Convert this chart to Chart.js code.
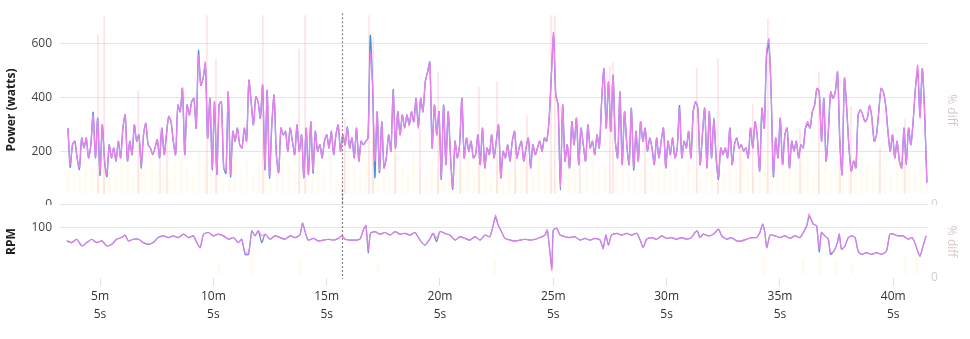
<!DOCTYPE html>
<html><head><meta charset="utf-8">
<script src="https://cdn.jsdelivr.net/npm/chart.js@4"></script>
<style>
html,body{margin:0;padding:0;background:#fff;width:970px;height:339px;overflow:hidden;}
#top{position:absolute;left:0;top:0;width:970px;height:205px;overflow:hidden;}
#bot{position:absolute;left:0;top:190px;width:970px;height:149px;}
canvas{display:block;}
</style></head><body>
<div id="top"><canvas id="c1" width="970" height="220"></canvas></div>
<div id="bot"><canvas id="c2" width="970" height="149"></canvas></div>
<script>
// ---- data ----
const tickSec = [305, 605, 905, 1205, 1505, 1805, 2105, 2405];
const tickLabels = [["5m","5s"],["10m","5s"],["15m","5s"],["20m","5s"],["25m","5s"],["30m","5s"],["35m","5s"],["40m","5s"]];
const powerTicks = [0, 200, 400, 600];
const rpmTicks = [100];
const diffTicks = [0];
const powerStartSec = 220, powerEndSec = 2494;   // sampling window of the power series
const cursorSec = 945;

const powerPink = [
286,150,224,237,175,138,249,212,249,175,224,335,175,323,120,298,163,113,224,175,212,163,237,175,286,335,163,237,187,298,237,261,144,261,304,224,212,187,212,243,175,286,187,261,329,310,237,187,372,347,434,187,372,335,384,397,286,557,446,471,532,249,397,138,384,113,372,384,138,126,421,113,274,237,286,224,
212,286,237,464,384,298,403,384,323,446,138,427,107,298,409,187,120,286,261,274,200,286,237,187,298,200,261,101,286,113,310,126,274,200,224,175,237,261,212,274,187,261,298,200,261,224,286,212,249,175,286,163,237,224,237,249,569,446,163,347,126,310,138,175,261,200,421,212,347,261,335,286,335,298,347,
310,397,286,397,347,458,495,532,212,372,261,347,101,372,150,347,187,64,237,175,224,397,175,249,200,237,175,187,261,150,286,138,212,187,261,175,237,298,101,200,175,224,163,237,274,175,212,237,163,212,249,138,224,187,212,237,200,249,237,310,471,643,409,372,64,372,163,224,138,310,224,323,150,286,224,
163,298,212,237,187,261,212,384,508,286,458,274,483,237,175,421,150,347,224,150,360,138,274,163,310,237,286,200,249,212,150,249,175,237,286,138,237,187,249,175,212,360,175,237,212,274,175,347,384,360,150,261,360,138,347,175,323,175,101,212,187,212,175,286,150,224,249,212,224,200,212,175,286,212,310,
249,126,360,286,569,618,421,113,249,175,323,150,261,286,138,237,200,237,175,224,212,286,310,286,347,372,434,421,237,397,163,274,421,397,421,495,237,113,471,360,212,126,163,138,335,354,335,310,323,372,323,237,261,347,434,421,372,274,200,261,175,237,163,138,286,150,286,224,310,434,520,323,508,347,83
];
const powerBlue = [
286,140,224,237,175,132,249,212,249,175,224,345,175,323,110,298,163,105,224,175,212,163,237,175,286,335,163,237,187,298,237,261,135,261,304,224,212,187,212,243,175,286,187,261,329,310,237,187,372,347,434,187,372,335,384,397,286,575,446,471,520,249,397,130,384,113,372,384,138,118,421,105,274,237,286,224,
212,286,237,464,384,298,403,384,323,446,130,427,100,298,409,187,120,286,261,274,200,286,237,187,298,200,261,101,286,113,310,118,274,200,224,175,237,261,212,274,187,261,298,200,261,224,290,212,249,175,286,163,237,224,237,249,631,446,101,347,120,310,138,175,261,200,430,212,347,261,335,286,335,298,347,
310,397,286,397,347,458,495,532,212,372,261,347,95,372,150,347,187,58,237,175,224,397,175,249,200,237,175,187,261,150,286,138,212,187,261,175,237,298,101,200,175,224,163,237,274,175,212,237,163,212,249,138,224,187,212,237,200,249,237,310,471,630,409,372,55,372,163,224,138,310,224,323,150,286,224,
163,298,212,237,187,261,212,384,508,286,458,274,483,237,175,421,150,347,224,150,360,130,274,163,310,237,286,200,249,212,150,249,175,237,286,138,237,187,249,175,212,370,175,237,212,274,175,347,384,360,150,261,360,138,347,175,323,175,95,212,187,212,175,286,150,224,249,212,224,200,212,175,286,212,310,
249,126,360,286,555,600,421,105,249,175,323,150,261,286,138,237,200,237,175,224,212,286,300,286,347,372,434,421,237,397,163,274,421,397,421,495,237,113,471,360,212,126,163,138,335,354,335,310,323,372,323,237,261,347,434,421,372,274,200,261,175,237,163,138,286,150,286,224,310,434,500,330,508,347,83
];

// % diff: large spikes
const spikeSec = [300,316,406,464,482,588,612,736,832,848,953,1017,1028,1086,1152,1200,1258,1308,1356,1404,1435,1499,1509,1575,1655,1663,1748,1885,1941,2000,2033,2073,2158,2208,2264,2293,2370,2436];
const spikeVal = [90,100,60,40,38,100,77,100,82,100,45,100,88,35,40,70,30,62,65,35,47,100,100,40,73,75,35,72,77,30,53,98,40,70,35,52,30,45];
// % diff: small background values (top panel)
const diffSmall = [18,22,15,25,20,12,24,19,16,27,21,14,23,18,26,17,20,13,22,25,19,15,28,21,17,24,12,20,26,18,23,16,21,27,14,19,25,22,17,29,20,15,24,18,26,13,21,28,19,16,23,30,18,22,14,25,20,17,27,21,15,24,19,12,22,26,18,23,16,20,25,14,21,28,17,19,24,22,15,26,18,20,13,23,27,19,16,22,25,18,21,14,24,20,17,26,19,23,15,22,28,18,20,16,25,21,13,24,19,27,17,22,18,26,20,15,23,29,19,21,16,24,18,22,25,14,20,27,17,23,19,21,26,15,22,18,24,20,16,25,19,23,17,21,18];
const diffBase = 6;
// % diff: bottom panel
const rpmDiffSec = [620,707,834,1041,1350,1504,2062,2166,2211,2253,2296,2436,2468];
const rpmDiffVal = [18,30,25,20,25,35,30,25,30,25,20,30,35];

const rpmSec = [
217,230,243,257,270,283,296,310,323,336,349,362,371,380,393,407,420,433,446,459,473,486,499,512,526,539,552,561,570,579,592,605,618,632,645,658,671,680,689,698,707,715,724,733,742,755,768,782,795,808,821,
834,841,848,856,870,883,896,909,923,936,945,954,967,980,993,1002,1009,1015,1021,1033,1046,1059,1073,1086,1099,1112,1126,1139,1152,1165,1179,1187,1196,1205,1218,1231,1245,1258,1271,1284,1298,1311,1324,1337,1346,1352,1359,1368,1377,1390,1404,1417,1430,1443,1457,1470,1483,1489,1496,1501,1505,1514,1523,1536,1549,1562,1576,1589,1602,1615,1629,1637,1644,1651,1659,1673,1686,1699,1712,1726,
1736,1743,1752,1765,1779,1792,1805,1818,1831,1845,1858,1871,1880,1886,1893,1902,1915,1929,1942,1951,1964,1977,1990,2004,2017,2030,2043,2052,2059,2065,2070,2079,2092,2105,2118,2131,2145,2158,2167,2176,2182,2187,2193,2202,2209,2215,2224,2233,2239,2248,2257,2262,2268,2277,2286,2295,2304,2312,2321,2334,2348,2361,2374,2387,2396,2405,2418,2431,2445,2454,2462,2471,2476,2484,2492
];
const rpmPink = [
84,82,86,78,82,86,82,84,78,80,86,88,91,84,86,86,82,80,82,88,90,88,90,88,92,88,90,82,76,92,94,90,92,90,86,88,82,86,70,70,96,90,96,90,92,86,90,88,86,90,88,
91,105,95,85,87,84,85,86,85,87,90,86,85,85,86,97,102,73,93,95,92,94,91,95,92,93,91,94,85,79,87,93,87,95,93,91,85,89,87,85,89,85,91,89,103,115,103,95,87,85,84,85,86,85,86,88,91,97,71,49,97,99,91,89,88,89,85,87,85,87,85,75,91,79,91,93,91,93,91,93,
84,76,86,88,86,90,87,88,86,88,86,88,94,96,88,92,90,92,98,90,86,88,84,84,86,88,88,94,104,94,76,91,90,88,90,87,90,88,94,102,116,110,104,102,74,94,90,86,70,72,82,92,74,78,88,90,88,72,68,70,68,70,68,72,92,92,90,90,86,88,82,70,66,78,90
];
const rpmBlue = [
84,82,86,78,82,86,82,84,78,80,86,88,91,84,86,86,82,80,82,88,90,88,90,88,92,88,90,82,76,92,94,90,92,90,86,88,82,86,68,68,96,90,96,82,92,86,90,88,86,90,88,
91,105,95,85,87,84,85,86,85,87,90,86,85,85,86,97,102,70,93,95,92,94,91,95,92,93,91,94,85,79,87,93,83,95,93,91,85,89,87,85,89,85,91,89,103,112,103,95,87,85,84,85,86,85,86,88,91,97,71,52,97,99,91,89,88,89,85,87,85,87,85,75,91,79,91,93,91,93,91,93,
84,76,86,88,86,90,87,88,86,88,86,88,94,96,88,92,90,92,98,90,86,88,84,84,86,88,88,94,104,94,76,91,90,88,90,87,90,88,94,102,113,110,104,102,71,94,90,86,68,72,82,92,74,78,88,90,88,72,68,70,68,70,68,72,92,92,90,90,86,88,82,70,66,78,90
];

// ---- build ----
const FONT = "'Open Sans', sans-serif";
const PINK = 'rgb(236,128,236)';
const BLUE = 'rgb(66,146,218)';
const X_MIN = 199, X_MAX = 2497;

const nP = powerPink.length;
const pStep = (powerEndSec - powerStartSec) / (nP - 1);
const pSec = powerPink.map((_, i) => powerStartSec + i * pStep);
const nD = diffSmall.length;
const dStep = (powerEndSec - powerStartSec) / (nD - 1);

const cursorPlugin = {
  id: 'cursor',
  afterDatasetsDraw(chart, args, opts) {
    const x = chart.scales.x.getPixelForValue(cursorSec);
    const ctx = chart.ctx;
    const y0 = opts.top === 'area' ? chart.chartArea.top - 2 : 0;
    const y1 = opts.bottom === 'area' ? chart.chartArea.bottom + 1 : chart.height;
    ctx.save();
    ctx.strokeStyle = 'rgba(110,110,110,0.85)';
    ctx.lineWidth = 1.2;
    ctx.setLineDash([2, 2]);
    ctx.beginPath(); ctx.moveTo(Math.round(x) + 0.5, y0); ctx.lineTo(Math.round(x) + 0.5, y1); ctx.stroke();
    ctx.restore();
  }
};

function xScale(show) {
  return {
    type: 'linear', min: X_MIN, max: X_MAX, display: show, offset: false,
    afterBuildTicks: s => { s.ticks = tickSec.map(v => ({ value: v })); },
    ticks: { callback: (v, i) => tickLabels[i], font: { family: FONT, size: 12, lineHeight: 1.5 }, color: '#333', padding: 2, maxRotation: 0, autoSkip: false },
    grid: { offset: false, drawOnChartArea: false, drawTicks: true, tickLength: 8, color: 'rgba(0,0,0,0.12)' },
    border: { display: false }
  };
}
function leftY(min, max, ticks, title) {
  return {
    position: 'left', min, max,
    afterBuildTicks: s => { s.ticks = ticks.map(v => ({ value: v })); },
    afterFit: s => { s.width = 60; },
    title: { display: true, text: title, font: { family: FONT, size: 12, weight: 'bold' }, color: '#222', padding: { top: 4, bottom: 0 } },
    ticks: { font: { family: FONT, size: 12 }, color: '#444', padding: 8 },
    grid: { color: 'rgba(0,0,0,0.1)', drawTicks: false },
    border: { display: false }
  };
}
function rightY() {
  return {
    position: 'right', min: 0, max: 100,
    afterBuildTicks: s => { s.ticks = diffTicks.map(v => ({ value: v })); },
    afterFit: s => { s.width = 35; },
    title: { display: true, text: '% diff', font: { family: FONT, size: 12 }, color: 'rgba(180,150,150,0.55)', padding: { top: 4, bottom: 0 } },
    ticks: { font: { family: FONT, size: 12 }, color: 'rgba(0,0,0,0.2)', padding: 3 },
    grid: { display: false, drawTicks: false },
    border: { display: false }
  };
}

new Chart(document.getElementById('c1'), {
  type: 'line',
  data: { datasets: [
    { data: pSec.map((t, i) => ({ x: t, y: powerPink[i] })), borderColor: PINK, borderWidth: 1.3, pointRadius: 0, tension: 0.25, order: 0, yAxisID: 'y' },
    { data: pSec.map((t, i) => ({ x: t, y: powerBlue[i] })), borderColor: BLUE, borderWidth: 1.3, pointRadius: 0, tension: 0.25, order: 1, yAxisID: 'y' },
    { type: 'bar', data: spikeSec.map((t, i) => ({ x: t, y: [diffBase, spikeVal[i]] })), backgroundColor: 'rgba(250,170,170,0.3)', barThickness: 1, grouped: false, yAxisID: 'y2', order: 3 },
    { type: 'bar', data: diffSmall.map((v, i) => ({ x: powerStartSec + i * dStep, y: [diffBase, v] })), backgroundColor: 'rgba(255,225,140,0.14)', barThickness: 2, grouped: false, yAxisID: 'y2', order: 4 }
  ] },
  options: {
    responsive: false, animation: false, events: [],
    layout: { padding: { top: 12, right: 7, bottom: 0, left: 0 } },
    plugins: { legend: { display: false }, tooltip: { enabled: false }, cursor: { top: 'area', bottom: 'canvas' } },
    scales: { x: xScale(false), y: leftY(0, 707, powerTicks, 'Power (watts)'), y2: rightY() }
  },
  plugins: [cursorPlugin]
});

new Chart(document.getElementById('c2'), {
  type: 'line',
  data: { datasets: [
    { data: rpmSec.map((t, i) => ({ x: t, y: rpmPink[i] })), borderColor: 'rgba(236,128,236,0.85)', borderWidth: 1.2, pointRadius: 0, tension: 0.2, order: 0, yAxisID: 'y' },
    { data: rpmSec.map((t, i) => ({ x: t, y: rpmBlue[i] })), borderColor: 'rgba(80,110,210,0.85)', borderWidth: 1.2, pointRadius: 0, tension: 0.2, order: 1, yAxisID: 'y' },
    { type: 'bar', data: rpmDiffSec.map((t, i) => ({ x: t, y: [diffBase, rpmDiffVal[i]] })), backgroundColor: 'rgba(255,225,140,0.18)', barThickness: 2, grouped: false, yAxisID: 'y2', order: 3 }
  ] },
  options: {
    responsive: false, animation: false, events: [],
    layout: { padding: { top: 0, right: 7, bottom: 13, left: 0 } },
    plugins: { legend: { display: false }, tooltip: { enabled: false }, cursor: { top: 'canvas', bottom: 'area' } },
    scales: { x: xScale(true), y: leftY(40, 126.4, rpmTicks, 'RPM'), y2: rightY() }
  },
  plugins: [cursorPlugin]
});
</script>
</body></html>
